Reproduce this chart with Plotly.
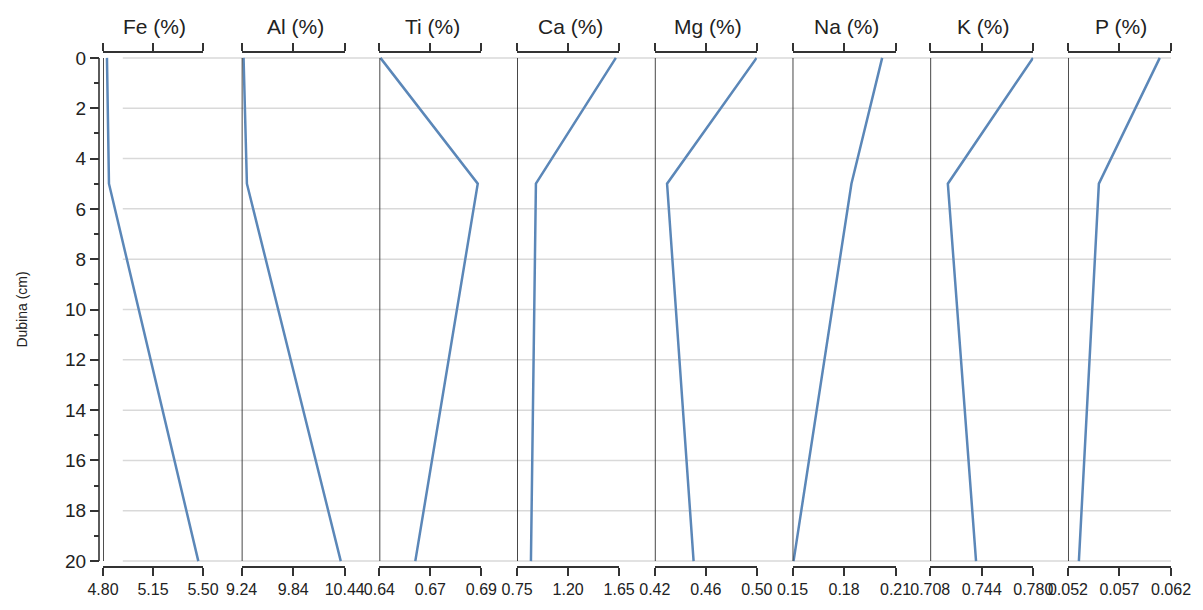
import plotly.graph_objects as go

# ---- data ----
depth = [0, 5, 20]
elements = ["Fe (%)", "Al (%)", "Ti (%)", "Ca (%)", "Mg (%)", "Na (%)", "K (%)", "P (%)"]
fe = [4.828, 4.842, 5.467]
al = [9.262, 9.301, 10.394]
ti = [0.6405, 0.6882, 0.6576]
ca = [1.621, 0.916, 0.872]
mg = [0.4998, 0.4296, 0.4504]
na = [0.2022, 0.1843, 0.1506]
k = [0.7798, 0.7203, 0.7400]
p = [0.06091, 0.0550, 0.05306]
series = [fe, al, ti, ca, mg, na, k, p]

tick_vals = [
    [4.80, 5.15, 5.50],
    [9.24, 9.84, 10.44],
    [0.64, 0.665, 0.69],
    [0.75, 1.20, 1.65],
    [0.42, 0.46, 0.50],
    [0.15, 0.18, 0.21],
    [0.708, 0.744, 0.780],
    [0.052, 0.057, 0.062],
]
tick_text = [
    ["4.80", "5.15", "5.50"],
    ["9.24", "9.84", "10.44"],
    ["0.64", "0.67", "0.69"],
    ["0.75", "1.20", "1.65"],
    ["0.42", "0.46", "0.50"],
    ["0.15", "0.18", "0.21"],
    ["0.708", "0.744", "0.780"],
    ["0.052", "0.057", "0.062"],
]
y_major = list(range(0, 21, 2))

# ---- layout geometry (pixels) ----
W, H = 1203, 610
L, R, T, B = 99, 1181, 53, 578
starts = [103, 243, 382, 521, 660, 799, 938, 1077]
ends = [204, 347, 485, 624, 763, 903, 1042, 1181]
pw = R - L

def fx(px):
    return (px - L) / pw

FONT = "Liberation Sans, Arial, sans-serif"
AX = "#333333"
LINE = "#5b87b8"

fig = go.Figure()
layout = dict(
    width=W, height=H,
    margin=dict(l=L, r=W - R, t=T, b=H - B, pad=0),
    paper_bgcolor="white", plot_bgcolor="white",
    showlegend=False,
    font=dict(family=FONT, color="#222"),
)

shapes = []
annotations = []
y0px, y20px = 58, 573
upp = 20 / (y20px - y0px)
y_top = -(y0px - T) * upp
y_bot = 20 + (B - y20px) * upp

for i, (vals, tv, tt, name) in enumerate(zip(series, tick_vals, tick_text, elements)):
    xa = "x" if i == 0 else f"x{i+1}"
    key = "xaxis" if i == 0 else f"xaxis{i+1}"
    fig.add_trace(go.Scatter(x=vals, y=depth, xaxis=xa, yaxis="y", mode="lines",
                             line=dict(color=LINE, width=2.5), hoverinfo="skip"))
    layout[key] = dict(
        domain=[fx(starts[i]), fx(ends[i])], anchor="y",
        range=[tv[0], tv[-1]], tickvals=tv, ticktext=tt,
        showline=True, linecolor=AX, linewidth=1.6, mirror="ticks",
        ticks="outside", ticklen=8, tickwidth=1.6, tickcolor=AX,
        showgrid=False, zeroline=False,
        tickfont=dict(family=FONT, size=16, color="#222"),
        fixedrange=True,
    )
    shapes.append(dict(type="line", xref=xa, yref="y", x0=tv[0], x1=tv[0], y0=0, y1=20,
                       line=dict(color=AX, width=1.8), layer="above"))
    annotations.append(dict(text=name, xref="paper", yref="paper",
                            x=(fx(starts[i]) + fx(ends[i])) / 2 + 2 / pw, y=1 + 27 / (B - T),
                            xanchor="center", yanchor="middle", showarrow=False,
                            font=dict(family=FONT, size=21, color="#222")))

for yv in y_major:
    shapes.append(dict(type="line", xref="paper", yref="y", x0=fx(123), x1=1.0, y0=yv, y1=yv,
                       line=dict(color="#d9d9d9", width=1.5), layer="below"))
shapes.append(dict(type="line", xref="paper", yref="y", x0=0, x1=0, y0=0, y1=20,
                   line=dict(color=AX, width=1.6), layer="above"))

layout["yaxis"] = dict(
    domain=[0, 1], anchor="free", position=0,
    range=[y_bot, y_top], tickvals=y_major,
    ticks="outside", ticklen=9, tickwidth=1.6, tickcolor=AX,
    minor=dict(ticks="outside", ticklen=5, tickwidth=1.6, tickcolor=AX, dtick=1, tick0=0, showgrid=False),
    showline=False, showgrid=False, zeroline=False,
    tickfont=dict(family=FONT, size=19, color="#222"),
    title=dict(text="Dubina (cm)", font=dict(family=FONT, size=14, color="#222"), standoff=33),
    fixedrange=True,
)
layout["shapes"] = shapes
layout["annotations"] = annotations
fig.update_layout(**layout)

fig.write_html("out.html", config={"displayModeBar": False},
               post_script="document.body.style.margin='0';document.body.style.overflow='hidden';")
